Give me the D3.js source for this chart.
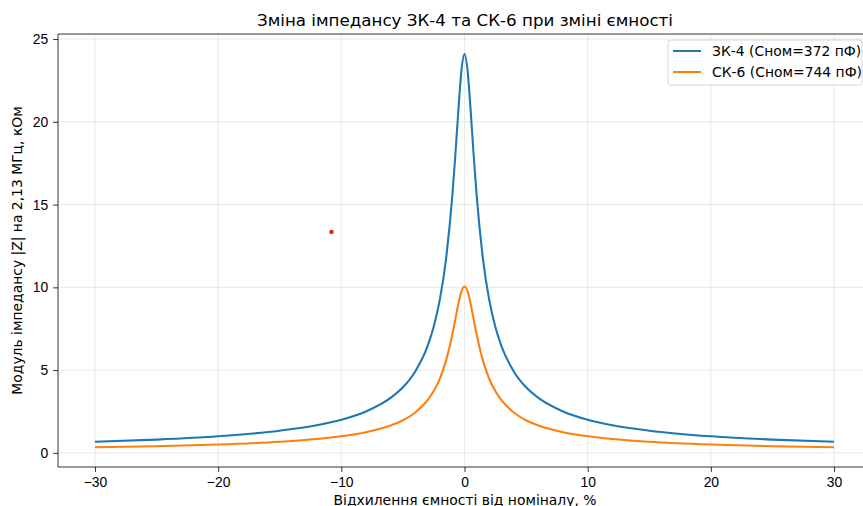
<!DOCTYPE html>
<html>
<head>
<meta charset="utf-8">
<script src="https://d3js.org/d3.v7.min.js"></script>
<style>
  body { margin: 0; background: #fff; overflow: hidden; }
  svg { display: block; font-family: "DejaVu Sans", sans-serif; }
  .grid line { stroke: #b0b0b0; stroke-opacity: 0.35; stroke-width: 0.8; }
  .axis text { font-size: 13.9px; fill: #000; }
  .axis line, .axis path { stroke: #000; stroke-width: 0.8; }
</style>
</head>
<body>
<svg id="chart" width="863" height="506"></svg>
<script>
// deviation of capacitance, %
var devs = [-30, -25, -20, -15, -12, -10, -8, -6, -5, -4, -3, -2.5, -2, -1.5, -1, -0.75, -0.5, -0.25,
            0, 0.25, 0.5, 0.75, 1, 1.5, 2, 2.5, 3, 4, 5, 6, 8, 10, 12, 15, 20, 25, 30];
// |Z|, kOhm
var zk4 = [0.67, 0.80, 1.00, 1.34, 1.67, 2.00, 2.50, 3.32, 3.96, 4.92, 6.45, 7.62, 9.27, 11.71, 15.43, 17.92, 20.67, 23.09,
           24.10, 23.09, 20.67, 17.92, 15.43, 11.71, 9.27, 7.62, 6.45, 4.92, 3.96, 3.32, 2.50, 2.00, 1.67, 1.34, 1.00, 0.80, 0.67];
var sk6 = [0.335, 0.40, 0.50, 0.67, 0.835, 1.00, 1.25, 1.65, 1.97, 2.44, 3.18, 3.73, 4.49, 5.57, 7.11, 8.04, 8.99, 9.75,
           10.05, 9.75, 8.99, 8.04, 7.11, 5.57, 4.49, 3.73, 3.18, 2.44, 1.97, 1.65, 1.25, 1.00, 0.835, 0.67, 0.50, 0.40, 0.335];
var seriesNames = ["ЗК-4 (Сном=372 пФ)", "СК-6 (Сном=744 пФ)"];
var seriesColors = ["#1f77b4", "#ff7f0e"];
var xTicks = [-30, -20, -10, 0, 10, 20, 30];
var yTicks = [0, 5, 10, 15, 20, 25];
var marker = [-10.8, 13.35];

var svg = d3.select("#chart");
var pLeft = 58, pTop = 34, pRight = 871, pBottom = 467;

var x = d3.scaleLinear().domain([-33, 33]).range([pLeft, pRight]);
var y = d3.scaleLinear().domain([-0.855, 25.305]).range([pBottom, pTop]);

// grid
var grid = svg.append("g").attr("class", "grid");
grid.selectAll(".gx").data(xTicks).enter().append("line")
  .attr("x1", function(d) { return x(d); }).attr("x2", function(d) { return x(d); })
  .attr("y1", pTop).attr("y2", pBottom);
grid.selectAll(".gy").data(yTicks).enter().append("line")
  .attr("x1", pLeft).attr("x2", pRight)
  .attr("y1", function(d) { return y(d); }).attr("y2", function(d) { return y(d); });

// lines
var line = d3.line()
  .x(function(d) { return x(d[0]); })
  .y(function(d) { return y(d[1]); })
  .curve(d3.curveMonotoneX);

[zk4, sk6].forEach(function(vals, i) {
  svg.append("path")
    .datum(devs.map(function(d, j) { return [d, vals[j]]; }))
    .attr("fill", "none")
    .attr("stroke", seriesColors[i])
    .attr("stroke-width", 2.08)
    .attr("stroke-linejoin", "round")
    .attr("d", line);
});

// red point
svg.append("circle")
  .attr("cx", x(marker[0])).attr("cy", y(marker[1]))
  .attr("r", 2.2).attr("fill", "#e41a1c");

// axes
var xAxis = d3.axisBottom(x).tickValues(xTicks).tickSize(4.9).tickPadding(4.9)
  .tickFormat(function(d) { return d < 0 ? "\u2212" + Math.abs(d) : d; });
svg.append("g").attr("class", "axis")
  .attr("transform", "translate(0," + pBottom + ")")
  .call(xAxis)
  .call(function(g) { g.select(".domain").remove(); });

var yAxis = d3.axisLeft(y).tickValues(yTicks).tickSize(4.9).tickPadding(4.9);
svg.append("g").attr("class", "axis")
  .attr("transform", "translate(" + pLeft + ",0)")
  .call(yAxis)
  .call(function(g) { g.select(".domain").remove(); });

// spines
svg.append("line").attr("x1", pLeft).attr("x2", pLeft).attr("y1", pTop).attr("y2", pBottom)
  .attr("stroke", "#000").attr("stroke-width", 0.8);
svg.append("line").attr("x1", pLeft).attr("x2", pRight).attr("y1", pBottom).attr("y2", pBottom)
  .attr("stroke", "#000").attr("stroke-width", 0.8);
svg.append("line").attr("x1", pLeft).attr("x2", pRight).attr("y1", pTop).attr("y2", pTop)
  .attr("stroke", "#000").attr("stroke-width", 0.8);

// title and labels
svg.append("text")
  .attr("x", 465).attr("y", 26)
  .attr("text-anchor", "middle")
  .style("font-size", "16.7px")
  .text("Зміна імпедансу ЗК-4 та СК-6 при зміні ємності");

svg.append("text")
  .attr("x", 465).attr("y", 505)
  .attr("text-anchor", "middle")
  .style("font-size", "13.9px")
  .text("Відхилення ємності від номіналу, %");

svg.append("text")
  .attr("transform", "translate(22," + ((pTop + pBottom) / 2) + ") rotate(-90)")
  .attr("text-anchor", "middle")
  .style("font-size", "13.9px")
  .text("Модуль імпедансу |Z| на 2,13 МГц, кОм");

// legend
var lg = svg.append("g").attr("transform", "translate(668,40)");
lg.append("rect")
  .attr("width", 194).attr("height", 45).attr("rx", 3)
  .attr("fill", "#fff").attr("fill-opacity", 0.8)
  .attr("stroke", "#cccccc").attr("stroke-width", 0.8);
seriesNames.forEach(function(name, i) {
  var yy = 11 + i * 21;
  lg.append("line").attr("x1", 5).attr("x2", 33).attr("y1", yy).attr("y2", yy)
    .attr("stroke", seriesColors[i]).attr("stroke-width", 2.08);
  lg.append("text").attr("x", 44).attr("y", yy + 5)
    .style("font-size", "13.9px").text(name);
});
</script>
</body>
</html>
